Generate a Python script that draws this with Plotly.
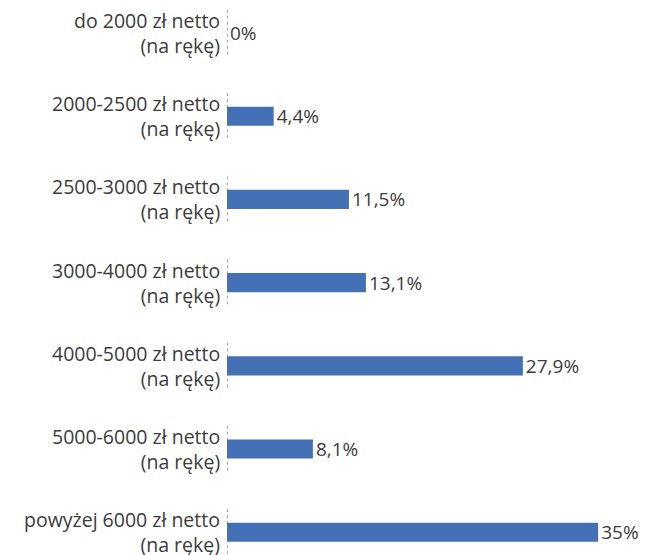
import plotly.graph_objects as go

categories = [
    "do 2000 zł netto<br>(na rękę)",
    "2000-2500 zł netto<br>(na rękę)",
    "2500-3000 zł netto<br>(na rękę)",
    "3000-4000 zł netto<br>(na rękę)",
    "4000-5000 zł netto<br>(na rękę)",
    "5000-6000 zł netto<br>(na rękę)",
    "powyżej 6000 zł netto<br>(na rękę)",
]
values = [0, 4.4, 11.5, 13.1, 27.9, 8.1, 35]

def fmt(v):
    s = ("%g" % v).replace(".", ",")
    return s + "%"

labels = [fmt(v) for v in values]
positions = list(range(len(categories)))

FONT = "Open Sans"
TEXT_COLOR = "#3c3c3c"
BAR_COLOR = "#4470B6"
TICK_SIZE = 19.5

fig = go.Figure()
fig.add_trace(go.Bar(
    x=values, y=positions, orientation="h",
    marker=dict(color=BAR_COLOR, line=dict(width=0)),
    width=0.23,
    text=labels, textposition="outside", cliponaxis=False,
    constraintext="none",
    textfont=dict(family=FONT, size=19, color=TEXT_COLOR),
    hoverinfo="skip",
))

# dotted axis segments per category
ax_x, ax_y = [], []
for p in positions:
    ax_x += [0, 0, None]
    ax_y += [p - 0.28, p + 0.27, None]
fig.add_trace(go.Scatter(
    x=ax_x, y=ax_y, mode="lines",
    line=dict(color="#6f6f6f", width=1.2, dash="dot"),
    hoverinfo="skip", cliponaxis=False,
))

# category labels as annotations
annotations = [
    dict(x=0, y=p, xref="x", yref="y", text=cat, showarrow=False,
         xanchor="right", yanchor="middle", align="right",
         xshift=-6, yshift=0, borderpad=0,
         font=dict(family=FONT, size=TICK_SIZE, color=TEXT_COLOR))
    for p, cat in zip(positions, categories)
]

fig.update_layout(
    width=648, height=555,
    margin=dict(l=227, r=0, t=0, b=0),
    paper_bgcolor="white", plot_bgcolor="white",
    showlegend=False,
    font=dict(family=FONT, color=TEXT_COLOR),
    annotations=annotations,
    xaxis=dict(range=[0, 39.7], visible=False, fixedrange=True),
    yaxis=dict(
        range=[6.274, -0.397], visible=False,
        showgrid=False, zeroline=False, showline=False,
        fixedrange=True,
    ),
)

fig.write_html(
    "out.html",
    config={"displayModeBar": False},
    post_script="document.body.style.margin='0';document.body.style.overflow='hidden';",
)
